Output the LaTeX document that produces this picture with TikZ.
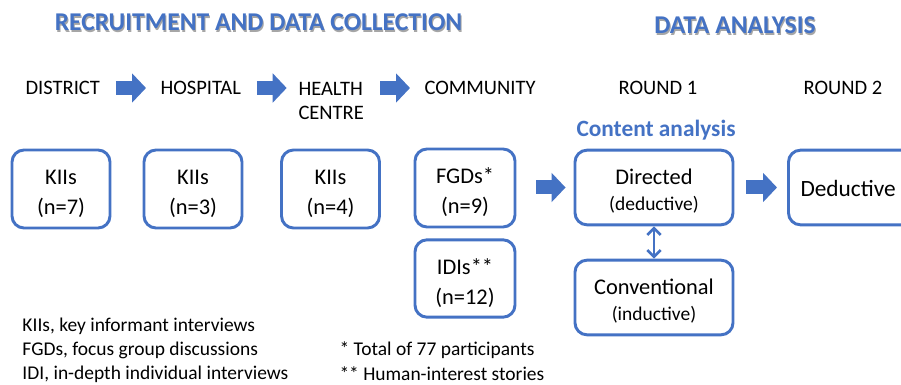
\documentclass[tikz,border=0pt]{standalone}
\usepackage{fontspec}
\setmainfont{Carlito}
\usetikzlibrary{arrows.meta}

\definecolor{mblue}{HTML}{4472C4}

\tikzset{every picture/.style={line width=0.75pt}}
\tikzset{
  heading/.style={text=mblue,font=\fontsize{19.2}{22}\selectfont\bfseries,inner sep=0pt},
  headshadow/.style={text=black!35,font=\fontsize{19.2}{22}\selectfont\bfseries,inner sep=0pt},
  level/.style={font=\fontsize{15.4}{18}\selectfont,inner sep=0pt,align=left},
  stagebox/.style={draw=mblue,line width=2.2pt,rounded corners=9pt,align=center,inner sep=0pt,text depth=0pt},
  boxtext/.style={font=\fontsize{16.8}{22.5}\selectfont,text height=38.5pt},
  methodtext/.style={font=\fontsize{16.8}{19.5}\selectfont,text height=34.5pt},
  legend/.style={font=\fontsize{14.6}{18}\selectfont,inner sep=0pt,anchor=west},
  blockarrow/.style={draw=mblue,line width=10.5pt,-{Triangle[length=10.5pt,width=21.5pt]}},
}

\begin{document}
\begin{tikzpicture}[x=0.75pt,y=0.75pt,yscale=-1,xscale=1]
\useasboundingbox (0,0) rectangle (901,385);

% Headings
\node [headshadow] at (259.5,24) {RECRUITMENT AND DATA COLLECTION};
\node [heading] (recruit) at (258.5,22.5) {RECRUITMENT AND DATA COLLECTION};
\node [headshadow] at (736,27) {DATA ANALYSIS};
\node [heading] (analysis) at (735,25.5) {DATA ANALYSIS};

% Text Node
\node [level,anchor=west] (district) at (25,88) {DISTRICT};
% Text Node
\node [level,anchor=west] (hospital) at (160,88) {HOSPITAL};
% Text Node
\node [level,anchor=north west] (health) at (298,82) {HEALTH\\CENTRE};
% Text Node
\node [level,anchor=west] (community) at (424,88) {COMMUNITY};
% Text Node
\node [level] (round1) at (658,88) {ROUND 1};
% Text Node
\node [level] (round2) at (843,88) {ROUND 2};

% Block arrows between levels
\draw [blockarrow,shorten <=11.5pt,shorten >=10.5pt] (district.east) -- (hospital.west);
\draw [blockarrow,shorten <=11.5pt,shorten >=8.5pt] (hospital.east) -- (hospital.east -| health.west);
\draw [blockarrow,shorten <=12pt,shorten >=10.5pt] (health.east |- community.west) -- (community.west);

% Boxes: recruitment
\node [stagebox,minimum width=73.5pt,minimum height=58.5pt,boxtext] (kii7) at (61,189) {KIIs\\(n=7)};
\node [stagebox,minimum width=73.5pt,minimum height=58.5pt,boxtext] (kii3) at (193,189) {KIIs\\(n=3)};
\node [stagebox,minimum width=73.5pt,minimum height=58.5pt,boxtext] (kii4) at (330.5,189) {KIIs\\(n=4)};
\node [stagebox,minimum width=75pt,minimum height=58.5pt,boxtext] (fgd) at (465,188) {FGDs*\\(n=9)};
\node [stagebox,minimum width=75pt,minimum height=58pt,boxtext] (idi) at (465,278.5) {IDIs**\\(n=12)};

% Boxes: analysis
\node [text=mblue,font=\fontsize{17.5}{20}\selectfont\bfseries,inner sep=0pt] (content) at (656,130.5) {Content analysis};
\node [stagebox,minimum width=118.5pt,minimum height=56pt,methodtext] (directed) at (654,187.5) {Directed\\{\fontsize{14.6}{19.5}\selectfont(deductive)}};
\node [stagebox,minimum width=118.5pt,minimum height=56pt,methodtext] (conventional) at (654,297.5) {Conventional\\{\fontsize{14.6}{19.5}\selectfont(inductive)}};
\node [stagebox,minimum width=118.5pt,minimum height=56pt,anchor=west] (deductive) at (787,187.5) {};
\node [font=\fontsize{17.5}{21}\selectfont,inner sep=0pt,anchor=west] (deductivetxt) at (800,188) {Deductive};

\draw [blockarrow,shorten <=15pt,shorten >=6pt] (fgd.east |- directed.west) -- (directed.west);
\draw [blockarrow,shorten <=9pt,shorten >=7.5pt] (directed.east) -- (deductive.west);
\draw [mblue,line width=2pt,{Straight Barb[length=5pt,width=10pt]}-{Straight Barb[length=5pt,width=10pt]}] (directed.south) -- (conventional.north);

% Legend
\node [legend] (leg1) at (22,326) {KIIs, key informant interviews};
\node [legend] (leg2) at (22,350) {FGDs, focus group discussions};
\node [legend] (leg3) at (22,374) {IDI, in-depth individual interviews};
\node [legend] (note1) at (339,350) {* Total of 77 participants};
\node [legend] (note2) at (339,374) {** Human-interest stories};
\end{tikzpicture}
\end{document}
